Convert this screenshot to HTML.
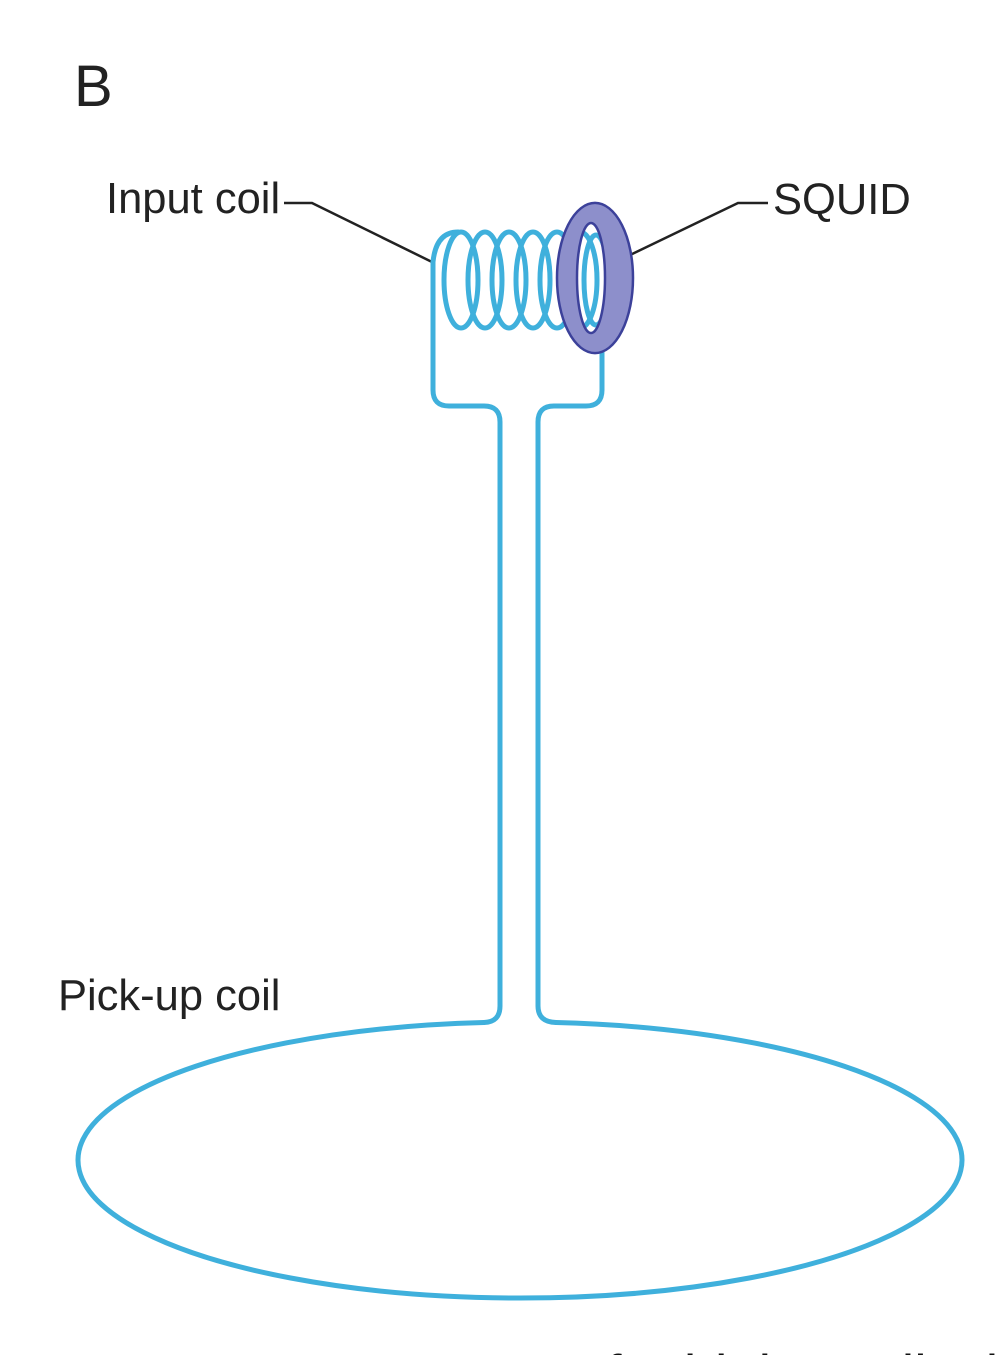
<!DOCTYPE html>
<html><head><meta charset="utf-8"><style>
html,body{margin:0;padding:0;background:#fff;}
body{width:1008px;height:1355px;overflow:hidden;position:relative;}
svg{position:absolute;left:0;top:0;}
</style></head><body>
<svg width="1008" height="1355" viewBox="0 0 1008 1355" xmlns="http://www.w3.org/2000/svg">
<text x="74" y="106" font-family="Liberation Sans, sans-serif" font-size="58" fill="#222">B</text>
<text x="106" y="213" font-family="Liberation Sans, sans-serif" font-size="43.5" fill="#222">Input coil</text>
<text x="773" y="214" font-family="Liberation Sans, sans-serif" font-size="43.5" fill="#222">SQUID</text>
<text x="58" y="1010" font-family="Liberation Sans, sans-serif" font-size="43.5" fill="#222">Pick-up coil</text>
<g stroke="#222" stroke-width="2.5" fill="none">
<polyline points="284,203 312,203 432,262"/>
<polyline points="768,203 738,203 628,256"/>
</g>
<g stroke="#3fb0dc" stroke-width="5" fill="none" stroke-linecap="round">
<path d="M484,1022.5 A442,138 0 1,0 556,1022.5"/>
<path d="M433,262 L433,390 Q433,406 449,406 L484,406 Q500,406 500,422 L500,1006 Q500,1022 484,1022.5"/>
<path d="M556,1022.5 Q538,1022 538,1006 L538,422 Q538,406 554,406 L586,406 Q602,406 602,390 L602,325"/>
<path d="M433,262 Q436,232 458,232"/>
<ellipse cx="461" cy="280" rx="17" ry="48"/>
<ellipse cx="485" cy="280" rx="17" ry="48"/>
<ellipse cx="509" cy="280" rx="17" ry="48"/>
<ellipse cx="533" cy="280" rx="17" ry="48"/>
<ellipse cx="557" cy="280" rx="17" ry="48"/>
<ellipse cx="580" cy="280" rx="17" ry="48"/>
<ellipse cx="596" cy="280" rx="12" ry="45"/>
</g>
<path fill-rule="evenodd" fill="#8d8fcb" stroke="#3c419a" stroke-width="2.5"
 d="M557,278 a38,75 0 1,0 76,0 a38,75 0 1,0 -76,0 Z M577,278 a14,55 0 1,1 28,0 a14,55 0 1,1 -28,0 Z"/>
<text x="360" y="1394" font-family="Liberation Sans, sans-serif" font-size="56" fill="#111">ponents of a high-quality input coil</text>
</svg>
</body></html>
